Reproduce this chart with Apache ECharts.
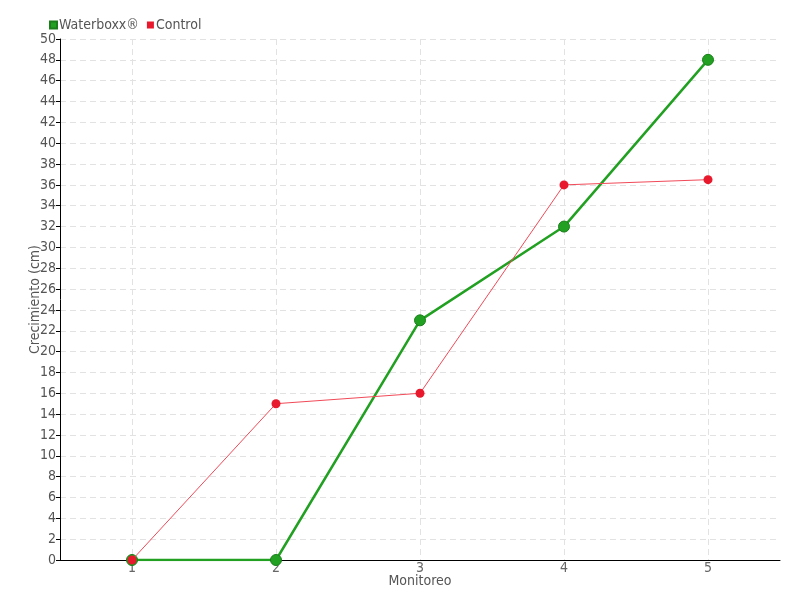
<!DOCTYPE html>
<html>
<head>
<meta charset="utf-8">
<script src="https://cdn.jsdelivr.net/npm/echarts@6/dist/echarts.min.js"></script>
<style>
	html, body { margin: 0; padding: 0; background: #fff; }
	#mainChart { width: 800px; height: 600px; }
</style>
</head>
<body>
<div id="mainChart"></div>
<script>
	// monitoreo 1..5
	var categories = ['1', '2', '3', '4', '5'];
	var waterboxx = [0, 0, 23, 32, 48];
	var control = [0, 15, 16, 36, 36.5];

	var myChart = echarts.init(document.getElementById('mainChart'));
	var font = 'DejaVu Sans Condensed';
	var option = {
		backgroundColor : '#ffffff',
		animation : false,
		textStyle : { fontFamily : font },
		legend : {
			left : 44,
			top : 13,
			itemWidth : 7,
			itemHeight : 7,
			itemGap : 8,
			icon : 'rect',
			textStyle : { color : '#555', fontSize : 14, fontFamily : font, padding : [0, 0, 0, -3] },
			data : ['Waterboxx®', 'Control']
		},
		grid : { left : 60, right : 20, top : 39, bottom : 40 },
		xAxis : {
			type : 'category',
			data : categories,
			boundaryGap : true,
			name : 'Monitoreo',
			nameLocation : 'middle',
			nameGap : 14,
			nameMoveOverlap : false,
			nameTextStyle : { color : '#555', fontSize : 14 },
			axisLine : { lineStyle : { color : '#000', width : 1 } },
			axisTick : { alignWithLabel : true, length : 13, lineStyle : { color : '#666' } },
			axisLabel : { color : '#666', fontSize : 14, margin : 1 },
			splitLine : { show : true, alignWithLabel : true, lineStyle : { color : '#e2e2e2', type : [6, 4] } }
		},
		yAxis : {
			type : 'value',
			min : 0,
			max : 50,
			interval : 2,
			name : 'Crecimiento (cm)',
			nameLocation : 'middle',
			nameGap : 18,
			nameMoveOverlap : false,
			nameTextStyle : { color : '#555', fontSize : 14 },
			axisLine : { show : true, lineStyle : { color : '#000', width : 1 } },
			axisTick : { show : true, length : 4, lineStyle : { color : '#000' } },
			axisLabel : { color : '#555', fontSize : 14, margin : 4 },
			splitLine : { show : true, lineStyle : { color : '#e2e2e2', type : [6, 4] } }
		},
		series : [ {
			name : 'Control',
			type : 'line',
			data : control,
			symbol : 'circle',
			symbolSize : 9,
			z : 3,
			itemStyle : { color : '#e8192c' },
			lineStyle : { color : '#f04a58', width : 1 }
		}, {
			name : 'Waterboxx®',
			type : 'line',
			data : waterboxx,
			symbol : 'circle',
			symbolSize : 11,
			z : 2,
			itemStyle : { color : '#22a022', borderColor : '#1a7f1a', borderWidth : 1 },
			lineStyle : { color : '#22a022', width : 2.5 }
		} ]
	};
	myChart.setOption(option, true);
</script>
</body>
</html>
